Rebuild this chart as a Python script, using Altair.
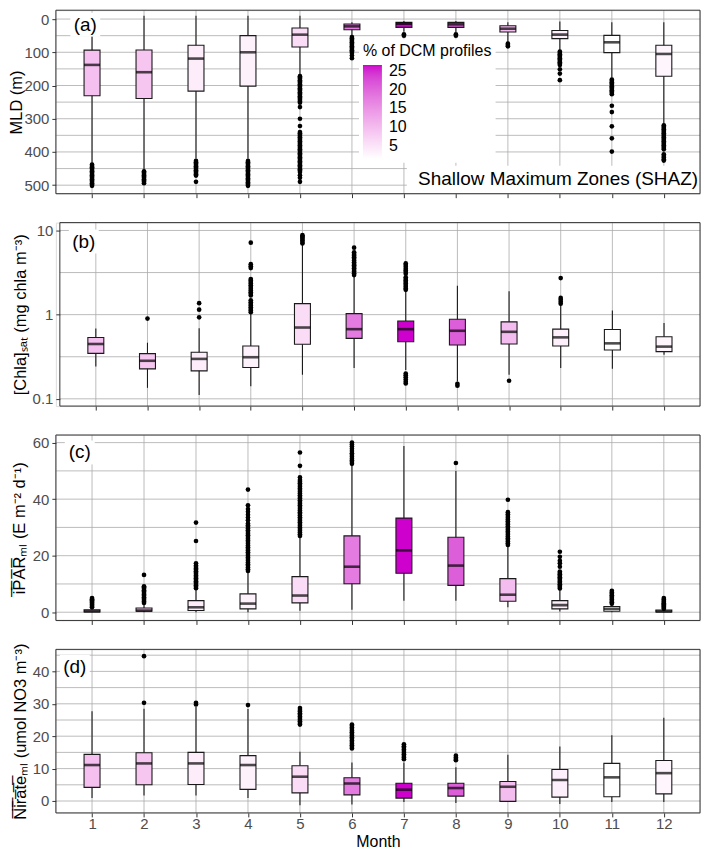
import altair as alt
import pandas as pd

months = [1, 2, 3, 4, 5, 6, 7, 8, 9, 10, 11, 12]
pct_dcm = [9.5, 8.8, 3.8, 3.3, 5.9, 17.8, 26.6, 21.0, 9.9, 3.6, 1.5, 2.8]

# (a) MLD (m)
mld_lo = [-10, -10, -10, -10, -10, 10, 6, 6, 10, 7, 10, 10]
mld_q1 = [93.5, 93, 79, 50, 27, 15, 10, 10, 20, 34.5, 49, 79]
mld_med = [138, 160, 119, 100, 47, 22, 14, 16, 29, 47, 70, 105]
mld_q3 = [231, 239, 217, 202, 84, 32, 25, 25, 39, 59, 101, 172]
mld_hi = [435, 455, 420, 420, 168, 50, 38, 39, 69, 93, 177, 316]
mld_out = [
    [438, 442, 446, 450, 454, 458, 462, 466, 470, 474, 478, 482, 486, 490, 494, 498, 502],
    [458, 462, 466, 470, 474, 478, 482, 486, 490, 494],
    [427, 431, 435, 439, 443, 447, 451, 455, 459, 463, 467, 471, 490],
    [427, 431, 435, 439, 443, 447, 451, 455, 459, 463, 467, 471, 475, 479, 483, 487, 491, 495, 499, 502],
    [172, 176, 180, 184, 188, 192, 196, 200, 204, 208, 212, 216, 220, 224, 228, 232, 236, 240, 244, 248,
     252, 265, 300, 322, 340, 344, 348, 352, 356, 360, 364, 368, 372, 376, 380, 384, 388, 392, 396, 400,
     404, 408, 412, 416, 420, 424, 428, 432, 436, 440, 444, 448, 452, 456, 460, 470, 478, 490],
    [54, 58, 62, 66, 70, 74, 78, 82, 86, 90, 94, 98, 102, 110, 118],
    [46, 50],
    [46, 50],
    [74, 78, 82],
    [98, 102, 106, 110, 114, 118, 122, 126, 130, 134, 138, 151, 164, 184],
    [182, 186, 190, 194, 198, 202, 206, 210, 214, 218, 222, 226, 261, 280, 323, 359, 399],
    [320, 324, 328, 332, 336, 340, 344, 348, 352, 356, 360, 364, 368, 372, 376, 380, 384, 388, 392,
     407, 412, 417, 422, 426],
]

# (b) [Chla]sat
chl_lo = [0.242, 0.135, 0.111, 0.141, 0.193, 0.232, 0.22, 0.161, 0.193, 0.232, 0.228, 0.333]
chl_q1 = [0.347, 0.227, 0.215, 0.236, 0.444, 0.522, 0.477, 0.435, 0.448, 0.424, 0.38, 0.364]
chl_med = [0.448, 0.283, 0.298, 0.312, 0.703, 0.672, 0.672, 0.643, 0.625, 0.537, 0.456, 0.417]
chl_q3 = [0.536, 0.344, 0.357, 0.424, 1.35, 1.028, 0.84, 0.88, 0.82, 0.672, 0.667, 0.547]
chl_hi = [0.684, 0.464, 0.69, 1.03, 6.85, 2.9, 1.93, 2.21, 1.9, 1.3, 1.12, 0.798]
chl_out = [
    [],
    [0.897],
    [0.93, 1.146, 1.37],
    [1.07, 1.12, 1.17, 1.22, 1.28, 1.34, 1.40, 1.48, 1.69, 1.77, 1.85, 1.94, 2.03, 2.13, 2.23, 2.34,
     2.45, 2.55, 2.65, 3.57, 3.75, 3.98, 7.16],
    [7.0, 7.3, 7.6, 7.9, 8.2, 8.5, 8.8],
    [2.95, 3.1, 3.25, 3.4, 3.55, 3.7, 3.85, 4.0, 4.2, 4.4, 4.6, 4.8, 5.0, 5.25, 5.5, 6.25],
    [1.97, 2.05, 2.15, 2.25, 2.35, 2.45, 2.55, 2.65, 2.78, 3.05, 3.2, 3.35, 3.5, 3.7, 3.9, 4.06,
     0.20, 0.19, 0.18, 0.17, 0.16, 0.152],
    [0.151, 0.143],
    [0.164],
    [1.35, 1.42, 1.5, 1.58, 2.72],
    [],
    [],
]

# (c) iPAR_ML
par_lo = [0, 0, 0, 0, 0.5, 0.9, 4.1, 4.1, 1.75, 0.3, 0, 0]
par_q1 = [0.1, 0.35, 0.6, 1.2, 3.3, 10.1, 13.8, 9.5, 3.9, 1.2, 0.35, 0.1]
par_med = [0.35, 0.6, 1.75, 3.05, 5.9, 16.1, 21.9, 16.5, 6.2, 2.5, 1.2, 0.3]
par_q3 = [0.9, 1.5, 4.1, 6.5, 12.6, 27.0, 33.3, 26.5, 11.9, 4.1, 2.0, 0.8]
par_hi = [1.5, 3.0, 8.0, 14.2, 26.5, 51.8, 58.8, 50.0, 23.2, 8.0, 2.7, 0.9]
par_out = [
    [1.8, 2.2, 2.6, 3.0, 3.4, 3.8, 4.2, 4.6, 5.0],
    [3.3, 3.8, 4.3, 4.8, 5.3, 5.8, 6.3, 6.8, 7.3, 7.8, 8.3, 8.8, 9.2, 13.2],
    [8.5, 9.0, 9.5, 10.0, 10.5, 11.0, 11.5, 12.0, 12.5, 13.0, 13.5, 14.0, 14.5, 15.0, 15.5, 16.0,
     16.5, 17.3, 25.2, 31.7],
    [14.6, 15.2, 15.8, 16.4, 17.0, 17.6, 18.2, 18.8, 19.4, 20.0, 20.6, 21.2, 21.8, 22.4, 23.0, 23.6,
     24.2, 24.8, 25.4, 26.0, 26.6, 27.2, 27.8, 28.4, 29.0, 29.6, 30.2, 30.8, 31.4, 32.5, 33.5, 34.5,
     35.5, 36.5, 37.8, 43.4],
    [27.0, 27.6, 28.2, 28.8, 29.4, 30.0, 30.6, 31.2, 31.8, 32.4, 33.0, 33.6, 34.2, 34.8, 35.4, 36.0,
     36.6, 37.2, 37.8, 38.4, 39.0, 39.6, 40.2, 40.8, 41.4, 42.0, 42.6, 43.2, 43.8, 44.4, 45.0, 45.6,
     46.2, 46.8, 47.7, 51.8, 56.5],
    [52.5, 53.1, 53.7, 54.3, 55.0, 55.6, 56.2, 57.0, 57.8, 58.6, 59.3, 60.0],
    [],
    [52.8],
    [23.8, 24.4, 25.0, 25.6, 26.2, 26.8, 27.4, 28.0, 28.6, 29.2, 29.8, 30.4, 31.0, 31.6, 32.2, 32.8,
     33.4, 34.0, 34.7, 35.4, 39.8],
    [8.4, 8.9, 9.4, 9.9, 10.4, 10.9, 11.4, 11.9, 12.4, 12.9, 13.4, 13.9, 14.4, 16.1, 17.3, 18.2, 19.6, 21.4],
    [3.0, 3.5, 4.0, 4.5, 5.0, 5.5, 6.0, 6.5, 7.0, 7.6],
    [1.2, 1.6, 2.0, 2.4, 2.8, 3.2, 3.6, 4.0, 4.5, 5.0],
]

# (d) Nitrate_ML
no3_lo = [0.9, 1.7, 1.7, 0.9, -1.3, -1.1, -0.3, -0.6, -0.1, -0.9, -0.3, -0.3]
no3_q1 = [4.2, 5.0, 5.1, 3.6, 2.5, 1.9, 0.9, 1.5, -0.1, 1.2, 1.3, 2.2]
no3_med = [11.1, 11.6, 11.6, 11.1, 7.5, 5.4, 3.5, 4.0, 4.4, 6.5, 7.3, 8.6]
no3_q3 = [14.4, 14.9, 15.0, 14.0, 10.9, 7.2, 5.5, 5.5, 6.0, 9.7, 11.6, 12.5]
no3_hi = [27.7, 28.5, 29.0, 28.4, 15.2, 11.9, 11.9, 10.4, 14.3, 16.8, 20.3, 25.7]
no3_out = [
    [],
    [30.3, 44.7],
    [29.8, 30.3],
    [29.6],
    [23.6, 24.1, 24.6, 25.1, 25.6, 26.1, 26.6, 27.1, 27.6, 28.1, 28.7],
    [16.2, 16.7, 17.2, 17.7, 18.2, 18.7, 19.2, 19.7, 20.2, 20.7, 21.2, 21.7, 22.2, 22.7, 23.2, 23.6],
    [12.9, 13.4, 13.9, 14.4, 14.9, 15.4, 15.9, 16.4, 16.9, 17.5],
    [12.6, 13.0, 13.4, 14.0],
    [], [], [], [],
]

FONT = "Liberation Sans"
GRID = "#ABABAB"
INK = "#1A1A1A"
W = 646

color_scale = alt.Scale(domain=[1.5, 26.6], range=["#FFFFFF", "#CD00CD"], interpolate="lab")


def panel(lo, q1, med, q3, hi, outl, ydom, ytype, yrev, yticks, ygrid, ytitle, titlex,
          height, x0, label, lab_xy, yfmt, last=False, legend=None):
    box_df = pd.DataFrame({"month": months, "pct": pct_dcm, "lo": lo, "q1": q1,
                           "med": med, "q3": q3, "hi": hi})
    out_rows = [{"month": m, "v": v} for m, vals in zip(months, outl) for v in vals]
    out_df = pd.DataFrame(out_rows, columns=["month", "v"])
    grid_df = pd.DataFrame({"g": ygrid})
    mon_df = pd.DataFrame({"month": months})
    one = pd.DataFrame({"k": [0]})

    xs = alt.Scale(domain=[0.4, 12.6], range=[x0, W], nice=False, zero=False)
    if last:
        xaxis = alt.Axis(values=months, grid=False, domain=False, tickSize=4, tickColor="#333333",
                         labelFontSize=15, labelColor="#4D4D4D", labelPadding=0, labelFont=FONT,
                         title="Month", titleFont=FONT, titleFontSize=16, titleFontWeight="normal",
                         titleColor="black", titlePadding=2, format="d")
    else:
        xaxis = alt.Axis(values=months, grid=False, domain=False, tickSize=4, tickColor="#333333",
                         labels=False, title=None)
    ys = alt.Scale(type=ytype, domain=ydom, reverse=yrev, nice=False, zero=False)
    yaxis = alt.Axis(values=yticks, grid=False, domain=False, tickSize=4, tickColor="#333333",
                     labelFontSize=15, labelColor="#4D4D4D", labelPadding=3, labelFont=FONT,
                     format=yfmt, labelOverlap=False, offset=-x0,
                     title=ytitle, titleFont=FONT, titleFontSize=16.5, titleFontWeight="normal",
                     titleColor="black", titleAngle=270, titleX=titlex, titleY=height / 2,
                     titleBaseline="bottom", titleAlign="center")
    X = alt.X("month:Q", scale=xs, axis=xaxis)

    vgrid = alt.Chart(mon_df).mark_rule(color=GRID, strokeWidth=0.8).encode(
        x=X, y=alt.value(0), y2=alt.value(height))
    hgrid = alt.Chart(grid_df).mark_rule(color=GRID, strokeWidth=0.8).encode(
        y=alt.Y("g:Q", scale=ys, axis=yaxis), x=alt.value(x0), x2=alt.value(W))
    whisk = alt.Chart(box_df).mark_rule(color=INK, strokeWidth=1.1).encode(
        x=X, y=alt.Y("lo:Q", scale=ys, axis=yaxis), y2="hi:Q")
    if legend is not None:
        colenc = alt.Color("pct:Q", scale=color_scale, legend=legend)
    else:
        colenc = alt.Color("pct:Q", scale=color_scale, legend=None)
    boxes = alt.Chart(box_df).mark_bar(size=16, stroke=INK, strokeWidth=1.1).encode(
        x=X, y=alt.Y("q1:Q", scale=ys, axis=yaxis), y2="q3:Q", color=colenc)
    meds = alt.Chart(box_df).mark_tick(orient="horizontal", size=16, thickness=2.6, color="black").encode(
        x=X, y=alt.Y("med:Q", scale=ys, axis=yaxis))
    pts = alt.Chart(out_df).mark_circle(size=22, color="black", opacity=1).encode(
        x=X, y=alt.Y("v:Q", scale=ys, axis=yaxis))
    lx, ly = lab_xy
    labbg = alt.Chart(one).mark_rect(color="white").encode(
        x=alt.value(lx - 15), x2=alt.value(lx + 15), y=alt.value(ly - 12), y2=alt.value(ly + 12))
    labtx = alt.Chart(one).mark_text(font=FONT, fontSize=19, color="black", baseline="middle",
                                     align="center").encode(
        x=alt.value(lx), y=alt.value(ly), text=alt.value(label))
    return [vgrid, hgrid, whisk, boxes, meds, pts, labbg, labtx]


def frame(x0, height):
    one = pd.DataFrame({"k": [0]})
    return alt.Chart(one).mark_rect(fill="white", fillOpacity=0, stroke="#333333", strokeWidth=1).encode(
        x=alt.value(x0), x2=alt.value(W), y=alt.value(0), y2=alt.value(height))


# Panel (a)
Ha = 184
la = panel(mld_lo, mld_q1, mld_med, mld_q3, mld_hi, mld_out, [-26.6, 525.6], "linear", True,
           [0, 100, 200, 300, 400, 500],
           [0, 50, 100, 150, 200, 250, 300, 350, 400, 450, 500],
           "MLD (m)", -31.5, Ha, 0, "(a)", (29.5, 14.5), "d",
           legend=alt.Legend(title="% of DCM profiles", orient="none", legendX=304, legendY=29,
                             direction="vertical", gradientLength=94, gradientThickness=19,
                             values=[5, 10, 15, 20, 25], labelOffset=7, titleFontSize=16,
                             labelFontSize=16, titleFontWeight="normal", titleColor="black",
                             labelColor="black", titleFont=FONT, labelFont=FONT,
                             fillColor="white", padding=4, titlePadding=6,
                             gradientStrokeWidth=0, labelOverlap=False))
one_df = pd.DataFrame({"k": [0]})
shaz_bg = alt.Chart(one_df).mark_rect(color="white").encode(
    x=alt.value(352), x2=alt.value(W), y=alt.value(156), y2=alt.value(Ha))
shaz_tx = alt.Chart(one_df).mark_text(font=FONT, fontSize=19, color="black", align="right",
                                      baseline="middle").encode(
    x=alt.value(644), y=alt.value(169), text=alt.value("Shallow Maximum Zones (SHAZ)"))
pa = alt.layer(*la, shaz_bg, shaz_tx, frame(0, Ha)).properties(width=W, height=Ha)

# Panel (b)
Hb = 184
lb = panel(chl_lo, chl_q1, chl_med, chl_q3, chl_hi, chl_out, [0.082, 12.4], "log", False,
           [0.1, 1, 10], [0.1, 0.316, 1, 3.162, 10],
           "[Chla]ₛₐₜ (mg chla m⁻³)", -31.5, Hb, 4, "(b)", (28, 19), "~g")
pb = alt.layer(*lb, frame(4, Hb)).properties(width=W, height=Hb)

# Panel (c)
Hc = 186
lc = panel(par_lo, par_q1, par_med, par_q3, par_hi, par_out, [-2.91, 62.7], "linear", False,
           [0, 20, 40, 60], [0, 10, 20, 30, 40, 50, 60],
           "i\u0305P\u0305A\u0305R\u0305ₘₗ (E m⁻² d⁻¹)", -28.5, Hc, 0, "(c)", (24, 17.5), "d")
pc = alt.layer(*lc, frame(0, Hc)).properties(width=W, height=Hc)

# Panel (d)
Hd = 164
ld = panel(no3_lo, no3_q1, no3_med, no3_q3, no3_hi, no3_out, [-3.67, 46.8], "linear", False,
           [0, 10, 20, 30, 40], [0, 5, 10, 15, 20, 25, 30, 35, 40, 45],
           "N\u0305i\u0305r\u0305a\u0305t\u0305e\u0305ₘₗ (umol NO3 m⁻³)", -27.5, Hd, 0, "(d)", (19, 17.5), "d",
           last=True)
pdd = alt.layer(*ld, frame(0, Hd)).properties(width=W, height=Hd)

chart = alt.vconcat(pa, pb, pc, pdd, spacing=29, bounds="flush").resolve_legend(
    color="independent").properties(
    padding={"left": 0, "top": 0, "right": 0, "bottom": 0}).configure_view(stroke=None).configure(
    font=FONT)

chart.save("out.html", embed_options={"renderer": "svg", "actions": False})
